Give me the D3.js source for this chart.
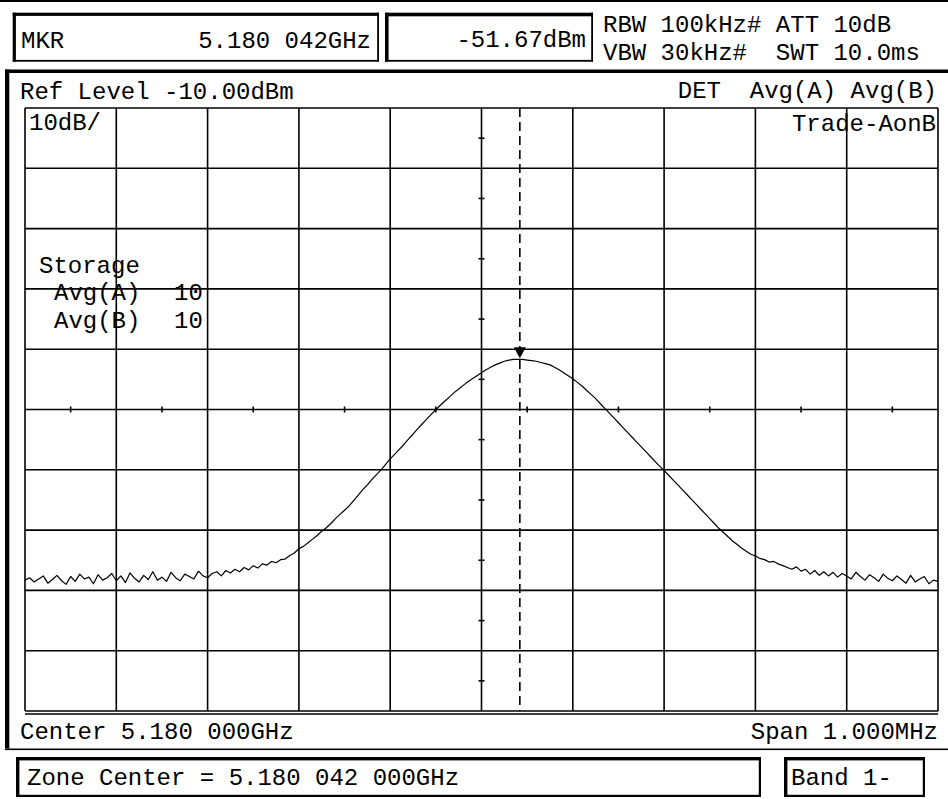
<!DOCTYPE html>
<html>
<head>
<meta charset="utf-8">
<script src="https://cdn.jsdelivr.net/npm/d3@7"></script>
<style>
  body { margin: 0; background: #fff; }
  svg { display: block; }
  text { font-family: "Liberation Mono", "DejaVu Sans Mono", monospace; font-size: 24px; fill: #000; white-space: pre; }
</style>
</head>
<body>
<svg id="sa" width="948" height="799"></svg>
<script>
// spectrum analyser screen, 10 dB/div, span 1 MHz around 5.180 GHz

// sweep: offsets from centre in kHz, one reading every 5 kHz
const startKHz = -500;
const stepKHz = 5;
// trace levels in dBm
const traceDbm = [
  -88.3, -87.9, -88.6, -88.1, -87.6, -88.8, -88.2, -87.5, -88.4, -89.0,
  -87.7, -88.5, -87.3, -88.1, -87.8, -88.9, -87.4, -88.3, -87.9, -87.2,
  -88.4, -87.6, -88.7, -87.1, -88.0, -88.6, -87.5, -88.2, -86.9, -88.3,
  -87.8, -88.5, -87.0, -87.9, -88.4, -87.3, -87.7, -88.1, -86.8, -87.6,
  -87.9, -87.2, -86.9, -87.6, -86.7, -87.1, -86.5, -86.9, -86.2, -86.6,
  -85.9, -86.3, -85.6, -85.8, -85.2, -85.4, -84.9, -84.8, -84.2, -83.8,
  -83.1, -82.7, -82.1, -81.5, -80.9, -80.2, -79.6, -78.9, -78.1, -77.4,
  -76.7, -76.0, -75.1, -74.2, -73.3, -72.5, -71.6, -70.8, -70.0, -69.1,
  -68.2, -67.4, -66.6, -65.8, -64.9, -64.1, -63.2, -62.4, -61.6, -60.8,
  -60.0, -59.3, -58.6, -57.9, -57.2, -56.6, -56.0, -55.4, -54.9, -54.4,
  -53.9, -53.4, -53.0, -52.6, -52.3, -52.0, -51.8, -51.7, -51.67, -51.7,
  -51.8, -51.9, -52.0, -52.2, -52.4, -52.6, -53.0, -53.4, -53.9, -54.4,
  -54.9, -55.5, -56.1, -56.8, -57.5, -58.2, -59.0, -59.8, -60.6, -61.4,
  -62.2, -63.0, -63.8, -64.6, -65.4, -66.2, -67.0, -67.8, -68.6, -69.4,
  -70.1, -70.9, -71.7, -72.5, -73.3, -74.1, -74.9, -75.7, -76.5, -77.3,
  -78.1, -78.9, -79.7, -80.4, -81.1, -81.8, -82.4, -83.0, -83.5, -84.0,
  -84.3, -84.7, -84.9, -85.3, -85.2, -85.6, -85.9, -86.2, -86.5, -86.1,
  -86.8, -86.5, -87.3, -86.7, -87.5, -86.9, -87.6, -87.0, -87.8, -87.2,
  -87.6, -88.1, -87.0, -87.7, -88.3, -87.4, -87.9, -88.5, -87.3, -88.0,
  -88.4, -87.6, -88.2, -88.8, -87.5, -88.6, -88.1, -87.7, -88.9, -88.3, -88.5
];

const refLevel = -10;      // dBm, top of graticule
const dbPerDiv = 10;
const markerKHz = 42;
const markerDbm = -51.67;

const headerLeft = ["MKR", "5.180 042GHz"];
const headerRight = ["RBW 100kHz# ATT 10dB", "VBW 30kHz#  SWT 10.0ms"];
const storageLines = [["Storage", ""], ["Avg(A)", "10"], ["Avg(B)", "10"]];

const svg = d3.select("#sa");

// graticule area
const gx0 = 25, gx1 = 938, gy0 = 108, gy1 = 711;
const x = d3.scaleLinear().domain([-500, 500]).range([gx0, gx1]);
const y = d3.scaleLinear().domain([refLevel - 10 * dbPerDiv, refLevel]).range([gy1, gy0]);

function rectLine(x0, y0, w, h) {
  svg.append("rect").attr("x", x0).attr("y", y0).attr("width", w).attr("height", h).attr("fill", "#000");
}
// box with heavy left/top edge, lighter right/bottom
function box(x0, y0, x1, y1, heavy, light) {
  rectLine(x0, y0, x1 - x0, heavy);
  rectLine(x0, y0, heavy, y1 - y0);
  rectLine(x1 - light, y0, light, y1 - y0);
  rectLine(x0, y1 - light, x1 - x0, light);
}

// outer frame lines
rectLine(0, 0, 948, 2);
rectLine(5, 69.5, 943, 3.5);
rectLine(5, 69.5, 4.3, 679);
rectLine(5, 748.5, 943, 1.6);

// header boxes
box(12.7, 12.7, 379, 61.7, 3.2, 1.8);
box(385, 12.7, 593, 61.7, 3.6, 1.8);
svg.append("text").attr("x", 21).attr("y", 48).text(headerLeft[0]);
svg.append("text").attr("x", 371).attr("y", 48).attr("text-anchor", "end").text(headerLeft[1]);
svg.append("text").attr("x", 586).attr("y", 47).attr("text-anchor", "end")
  .text(d3.format(".2f")(markerDbm).replace("−", "-") + "dBm");
svg.selectAll("text.hdr").data(headerRight).join("text")
  .attr("class", "hdr")
  .attr("x", 603)
  .attr("y", (d, i) => i ? 60 : 31.5)
  .text(d => d);

// grid
const vDivs = d3.range(-500, 501, 100);
const hDivs = d3.range(refLevel - 100, refLevel + 1, dbPerDiv);
const grid = svg.append("g").attr("stroke", "#000").attr("stroke-width", 1.6).attr("fill", "none");
grid.selectAll("line.v").data(vDivs).join("line")
  .attr("x1", d => x(d)).attr("x2", d => x(d)).attr("y1", gy0).attr("y2", gy1);
grid.selectAll("line.h").data(hDivs).join("line")
  .attr("x1", gx0).attr("x2", gx1).attr("y1", d => y(d)).attr("y2", d => y(d));
grid.append("line").attr("x1", gx0).attr("x2", gx1).attr("y1", gy1 + 3).attr("y2", gy1 + 3);

// half-division ticks on the centre lines
const midF = d3.range(-450, 451, 100);
const midDb = d3.range(refLevel - 95, refLevel, dbPerDiv);
grid.selectAll("line.tx").data(midF).join("line")
  .attr("x1", d => x(d)).attr("x2", d => x(d))
  .attr("y1", y(refLevel - 50) - 3).attr("y2", y(refLevel - 50) + 3);
grid.selectAll("line.ty").data(midDb).join("line")
  .attr("x1", x(0) - 3).attr("x2", x(0) + 3)
  .attr("y1", d => y(d)).attr("y2", d => y(d));

// marker line
svg.append("line")
  .attr("x1", x(markerKHz)).attr("x2", x(markerKHz))
  .attr("y1", gy0).attr("y2", gy1)
  .attr("stroke", "#000").attr("stroke-width", 1.6)
  .attr("stroke-dasharray", "9,5");

// trace
const line = d3.line()
  .x((d, i) => x(startKHz + i * stepKHz))
  .y(d => y(d));
svg.append("path")
  .datum(traceDbm)
  .attr("d", line)
  .attr("fill", "none")
  .attr("stroke", "#000")
  .attr("stroke-width", 1.2)
  .attr("stroke-linejoin", "round");

// marker symbol
const mx = x(markerKHz), my = y(markerDbm);
svg.append("path")
  .attr("d", `M${mx - 6},${my - 12}L${mx + 6},${my - 12}L${mx},${my - 1}Z`)
  .attr("fill", "#000");

// screen annotations
svg.append("text").attr("x", 20).attr("y", 99).text("Ref Level " + refLevel.toFixed(2) + "dBm");
svg.append("text").attr("x", 937).attr("y", 98).attr("text-anchor", "end").text("DET  Avg(A) Avg(B)");
svg.append("text").attr("x", 29).attr("y", 130).text(dbPerDiv + "dB/");
svg.append("text").attr("x", 936).attr("y", 131).attr("text-anchor", "end").text("Trade-AonB");

storageLines.forEach((d, i) => {
  svg.append("text").attr("x", i ? 54 : 39).attr("y", [273, 300, 328][i]).text(d[0]);
  if (d[1]) svg.append("text").attr("x", 174).attr("y", [273, 300, 328][i]).text(d[1]);
});

svg.append("text").attr("x", 20).attr("y", 739).text("Center 5.180 000GHz");
svg.append("text").attr("x", 938).attr("y", 739).attr("text-anchor", "end").text("Span 1.000MHz");

// bottom boxes
box(16, 757, 761, 797, 3.4, 2.2);
box(784, 757, 925, 797, 3.4, 2.2);
svg.append("text").attr("x", 27).attr("y", 785).text("Zone Center = 5.180 042 000GHz");
svg.append("text").attr("x", 791).attr("y", 785).text("Band 1-");
</script>
</body>
</html>
